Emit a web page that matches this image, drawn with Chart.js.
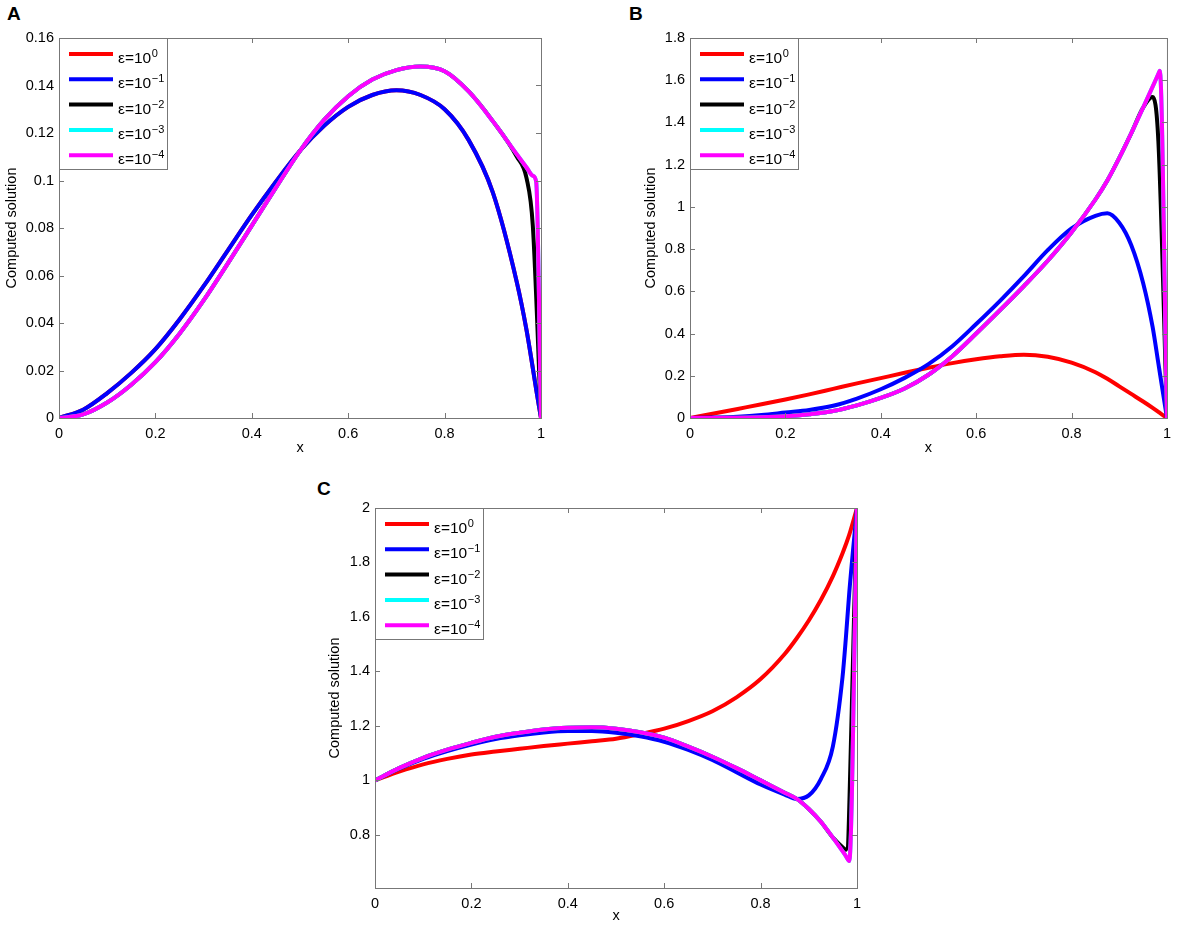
<!DOCTYPE html>
<html>
<head>
<meta charset="utf-8">
<script src="https://cdn.jsdelivr.net/npm/chart.js@4.4.1/dist/chart.umd.min.js"></script>
<style>
body { margin:0; width:1178px; height:929px; background:#fff; position:relative; overflow:hidden; font-family:"Liberation Sans", Arial, sans-serif; }
canvas { position:absolute; }
.tag { position:absolute; font-weight:bold; font-size:19px; line-height:19px; color:#000; }
</style>
</head>
<body>
<div class="tag" style="left:7px;top:4px">A</div>
<div class="tag" style="left:629px;top:4px">B</div>
<div class="tag" style="left:317px;top:479px">C</div>
<canvas id="chartA" width="560" height="460" style="left:0;top:0"></canvas>
<canvas id="chartB" width="540" height="460" style="left:638px;top:0"></canvas>
<canvas id="chartC" width="560" height="459" style="left:322px;top:470px"></canvas>
<script>
// series: eps = 1, 0.1, 0.01, 0.001, 0.0001
const colors = ['#ff0000', '#0000ff', '#000000', '#00ffff', '#ff00ff'];
const legendBase = 'ε=10';
const legendExp = ['0', '\u22121', '\u22122', '\u22123', '\u22124'];
const xTicks = [0, 0.2, 0.4, 0.6, 0.8, 1];

// panel A
const xA = [0, 0.05, 0.1, 0.15, 0.2, 0.25, 0.3, 0.35, 0.4, 0.45, 0.5, 0.55, 0.6, 0.65, 0.7, 0.75, 0.8, 0.85, 0.9, 0.95, 0.97, 0.983, 0.99, 1];
const redA     = [0, 0.0035, 0.0105, 0.019, 0.029, 0.0415, 0.0555, 0.0705, 0.0855, 0.0995, 0.1125, 0.123, 0.131, 0.136, 0.138, 0.136, 0.130, 0.117, 0.095, 0.057, 0.037, 0.021, 0.012, 0];
const blueA    = [0, 0.0035, 0.0105, 0.019, 0.029, 0.0415, 0.0555, 0.0705, 0.0855, 0.0995, 0.1125, 0.123, 0.131, 0.136, 0.138, 0.136, 0.130, 0.117, 0.095, 0.057, 0.037, 0.021, 0.012, 0];
const blackA   = [0, 0.0015, 0.0065, 0.014, 0.0235, 0.0355, 0.0495, 0.065, 0.081, 0.097, 0.1125, 0.1255, 0.1355, 0.1425, 0.1465, 0.148, 0.146, 0.1375, 0.125, 0.110, 0.101, 0.081, null, 0];
const cyanA    = [0, 0.0015, 0.0065, 0.014, 0.0235, 0.0355, 0.0495, 0.065, 0.081, 0.097, 0.1125, 0.1255, 0.1355, 0.1425, 0.1465, 0.148, 0.146, 0.1375, 0.125, 0.111, 0.1055, 0.102, 0.0995, 0];
const magentaA = [0, 0.0015, 0.0065, 0.014, 0.0235, 0.0355, 0.0495, 0.065, 0.081, 0.097, 0.1125, 0.1255, 0.1355, 0.1425, 0.1465, 0.148, 0.146, 0.1375, 0.125, 0.111, 0.1055, 0.102, 0.0995, 0];
const yTicksA = [0, 0.02, 0.04, 0.06, 0.08, 0.1, 0.12, 0.14, 0.16];

// panel B
const xB = [0, 0.05, 0.1, 0.15, 0.2, 0.25, 0.3, 0.35, 0.4, 0.45, 0.5, 0.55, 0.6, 0.65, 0.7, 0.75, 0.8, 0.85, 0.875, 0.9, 0.925, 0.95, 0.97, 0.982, 0.985, 1];
const redB     = [0, 0.021, 0.043, 0.065, 0.088, 0.112, 0.138, 0.164, 0.189, 0.214, 0.238, 0.26, 0.278, 0.292, 0.300, 0.290, 0.262, 0.217, 0.186, 0.150, 0.114, 0.078, 0.048, 0.029, 0.024, 0];
const blueB    = [0, 0.002, 0.006, 0.014, 0.026, 0.038, 0.058, 0.092, 0.136, 0.19, 0.255, 0.34, 0.445, 0.555, 0.672, 0.795, 0.898, 0.958, 0.97, 0.925, 0.82, 0.64, 0.43, 0.258, 0.215, 0];
const blackB   = [0, 0.0005, 0.001, 0.003, 0.008, 0.018, 0.033, 0.06, 0.095, 0.14, 0.205, 0.293, 0.40, 0.511, 0.625, 0.745, 0.88, 1.035, 1.125, 1.232, 1.348, 1.47, 1.52, 1.31, null, 0];
const cyanB    = [0, 0.0005, 0.001, 0.003, 0.008, 0.018, 0.033, 0.06, 0.095, 0.14, 0.205, 0.293, 0.40, 0.511, 0.625, 0.745, 0.88, 1.035, 1.125, 1.232, 1.348, 1.47, 1.57, 1.63, 1.645, 0];
const magentaB = [0, 0.0005, 0.001, 0.003, 0.008, 0.018, 0.033, 0.06, 0.095, 0.14, 0.205, 0.293, 0.40, 0.511, 0.625, 0.745, 0.88, 1.035, 1.125, 1.232, 1.348, 1.47, 1.57, 1.63, 1.645, 0];
const yTicksB = [0, 0.2, 0.4, 0.6, 0.8, 1, 1.2, 1.4, 1.6, 1.8];

// panel C
const xC = [0, 0.05, 0.1, 0.15, 0.2, 0.25, 0.3, 0.35, 0.4, 0.45, 0.5, 0.55, 0.6, 0.65, 0.7, 0.75, 0.8, 0.85, 0.875, 0.9, 0.925, 0.95, 0.97, 0.977, 0.984, 1];
const redC     = [1, 1.032, 1.059, 1.079, 1.095, 1.106, 1.116, 1.126, 1.135, 1.144, 1.153, 1.17, 1.19, 1.218, 1.254, 1.305, 1.372, 1.464, 1.522, 1.587, 1.662, 1.75, 1.834, 1.867, 1.902, 2];
const blueC    = [1, 1.043, 1.079, 1.108, 1.132, 1.152, 1.166, 1.176, 1.181, 1.181, 1.175, 1.162, 1.142, 1.112, 1.075, 1.03, 0.985, 0.948, 0.932, 0.945, 1.005, 1.125, 1.38, 1.525, 1.69, 2];
const blackC   = [1, 1.045, 1.083, 1.113, 1.138, 1.16, 1.175, 1.187, 1.193, 1.195, 1.19, 1.177, 1.157, 1.124, 1.087, 1.045, 1.0, 0.955, 0.932, 0.895, 0.848, 0.79, 0.755, 0.745, null, 2];
const cyanC    = [1, 1.045, 1.083, 1.113, 1.138, 1.16, 1.175, 1.187, 1.193, 1.195, 1.19, 1.177, 1.157, 1.124, 1.087, 1.045, 1.0, 0.955, 0.932, 0.895, 0.848, 0.79, 0.74, 0.722, 0.704, 2];
const magentaC = [1, 1.045, 1.083, 1.113, 1.138, 1.16, 1.175, 1.187, 1.193, 1.195, 1.19, 1.177, 1.157, 1.124, 1.087, 1.045, 1.0, 0.955, 0.932, 0.895, 0.848, 0.79, 0.74, 0.722, 0.704, 2];
const yTicksC = [0.8, 1, 1.2, 1.4, 1.6, 1.8, 2];

const FONT = '"Liberation Sans", Arial, sans-serif';
Chart.defaults.font.family = FONT;
Chart.defaults.color = '#000';

// matlab-like box, inward ticks and legend with superscripts
const boxPlugin = {
    id: 'matlabBox',
    afterDatasetsDraw(chart) {
        const ctx = chart.ctx;
        const a = chart.chartArea;
        const sx = chart.scales.x, sy = chart.scales.y;
        ctx.save();
        ctx.strokeStyle = '#777';
        ctx.lineWidth = 1;
        ctx.strokeRect(a.left + 0.5, a.top + 0.5, a.right - a.left, a.bottom - a.top);
        ctx.beginPath();
        sx.ticks.forEach(t => {
            const p = Math.round(sx.getPixelForValue(t.value)) + 0.5;
            ctx.moveTo(p, a.bottom); ctx.lineTo(p, a.bottom - 5);
            ctx.moveTo(p, a.top); ctx.lineTo(p, a.top + 5);
        });
        sy.ticks.forEach(t => {
            const p = Math.round(sy.getPixelForValue(t.value)) + 0.5;
            ctx.moveTo(a.left, p); ctx.lineTo(a.left + 5, p);
            ctx.moveTo(a.right, p); ctx.lineTo(a.right - 5, p);
        });
        ctx.stroke();

        // legend
        const lx = a.left, ly = a.top;
        ctx.fillStyle = '#fff';
        ctx.fillRect(lx, ly, 108, 131);
        ctx.strokeStyle = '#777';
        ctx.lineWidth = 1;
        ctx.strokeRect(lx + 0.5, ly + 0.5, 108, 131);
        chart.data.datasets.forEach((ds, i) => {
            const y = ly + 16 + i * 25.3;
            ctx.strokeStyle = ds.borderColor;
            ctx.lineWidth = 4;
            ctx.beginPath();
            ctx.moveTo(lx + 10, y); ctx.lineTo(lx + 54, y);
            ctx.stroke();
            ctx.fillStyle = '#000';
            ctx.textBaseline = 'alphabetic';
            ctx.font = '15.5px ' + FONT;
            ctx.fillText(legendBase, lx + 59, y + 9);
            const w = ctx.measureText(legendBase).width;
            ctx.font = '11px ' + FONT;
            ctx.fillText(legendExp[i], lx + 59 + w + 0.5, y + 3);
        });
        ctx.restore();
    }
};

function makeChart(id, xs, series, yTicks, yMin, yMax, geo) {
    const datasets = series.map((ys, i) => ({
        data: xs.map((x, j) => ({x: x, y: ys[j]})).filter(p => p.y !== null),
        borderColor: colors[i],
        backgroundColor: colors[i],
        borderWidth: 4,
        pointRadius: 0,
        cubicInterpolationMode: 'monotone',
        fill: false,
        borderJoinStyle: 'round',
        order: 5 - i
    }));
    return new Chart(document.getElementById(id), {
        type: 'line',
        data: { datasets: datasets },
        options: {
            responsive: false,
            animation: false,
            layout: { padding: { left: 0, top: 38, right: geo.pr, bottom: 0 } },
            plugins: { legend: { display: false }, tooltip: { enabled: false } },
            scales: {
                x: {
                    type: 'linear', min: 0, max: 1,
                    afterBuildTicks: s => { s.ticks = xTicks.map(v => ({value: v})); },
                    afterFit: s => { s.height = geo.xh; },
                    grid: { display: false, drawTicks: false },
                    border: { display: false },
                    ticks: { color: '#000', font: { size: 14.5 }, padding: 7, maxRotation: 0, autoSkip: false, callback: v => String(v) },
                    title: { display: true, text: 'x', color: '#000', font: { size: 14.5 }, padding: { top: 0, bottom: geo.xtp } }
                },
                y: {
                    type: 'linear', min: yMin, max: yMax,
                    afterBuildTicks: s => { s.ticks = yTicks.map(v => ({value: v})); },
                    afterFit: s => { s.width = geo.yw; },
                    grid: { display: false, drawTicks: false },
                    border: { display: false },
                    ticks: { color: '#000', font: { size: 14.5 }, padding: 5, autoSkip: false, callback: v => String(v) },
                    title: { display: true, text: 'Computed solution', color: '#000', font: { size: 14.5 }, padding: { top: geo.ytp, bottom: 0 } }
                }
            }
        },
        plugins: [boxPlugin]
    });
}

makeChart('chartA', xA, [redA, blueA, blackA, cyanA, magentaA], yTicksA, 0, 0.16,
    { yw: 59, xh: 42, pr: 19, xtp: 3, ytp: 3 });
makeChart('chartB', xB, [redB, blueB, blackB, cyanB, magentaB], yTicksB, 0, 1.8,
    { yw: 52, xh: 42, pr: 6, xtp: 3, ytp: 4 });
makeChart('chartC', xC, [redC, blueC, blackC, cyanC, magentaC], yTicksC, 0.605, 2,
    { yw: 53, xh: 41, pr: 25, xtp: 4, ytp: 4 });
</script>
</body>
</html>
